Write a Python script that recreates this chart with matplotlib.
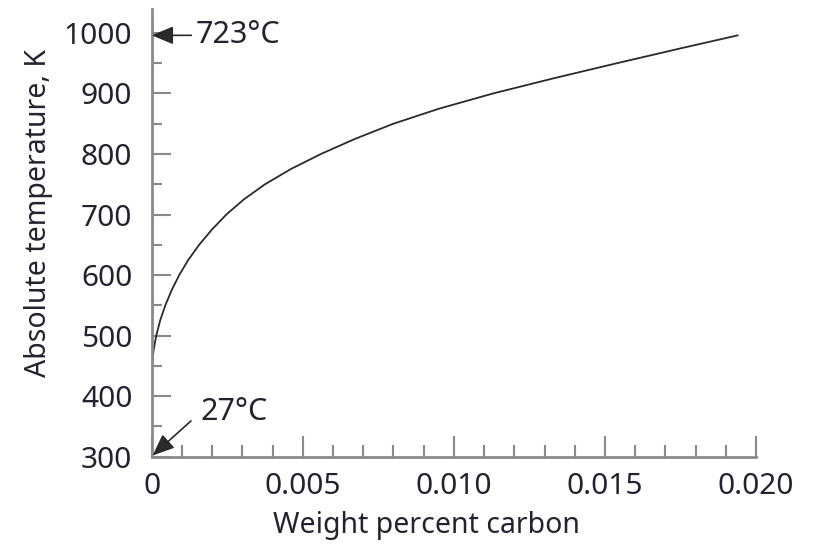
import matplotlib
matplotlib.use("Agg")
import matplotlib.pyplot as plt
from matplotlib.ticker import MultipleLocator, FixedLocator

plt.rcParams['font.family'] = ['Noto Sans', 'DejaVu Sans']

# Data (solubility of carbon in alpha iron)
temperature_K = [300, 425, 450, 475, 500, 525, 550, 575, 600, 625, 650, 675, 700,
                 725, 750, 775, 800, 825, 850, 875, 900, 925, 950, 975, 996]
carbon_wt = [0.0, 0.0, 0.00001, 0.00006, 0.00015, 0.00028, 0.00045, 0.00066, 0.00091,
             0.00121, 0.00157, 0.00199, 0.00247, 0.00305, 0.00375, 0.0046, 0.0056,
             0.00673, 0.0080, 0.00952, 0.0113, 0.0133, 0.0154, 0.01755, 0.0194]
x_tick_vals = [0, 0.005, 0.010, 0.015, 0.020]
x_tick_labels = ['0', '0.005', '0.010', '0.015', '0.020']
y_tick_vals = [300, 400, 500, 600, 700, 800, 900, 1000]
ann_hi = dict(text='723°C', x=0.0, y=996, tx=0.00145, ty=996)
ann_lo = dict(text='27°C', x=0.00003, y=302, tx=0.0016, ty=373)

text_color = '#23232f'
spine_color = '#8a8a8a'

fig = plt.figure(figsize=(8.13, 5.44), dpi=100)
ax = fig.add_axes([0.1866, 0.1605, 0.7433, 0.8224])

ax.plot(carbon_wt, temperature_K, color='#2a2a2a', lw=1.3, solid_capstyle='round',
        solid_joinstyle='round')

ax.set_xlim(0, 0.020)
ax.set_ylim(300, 1039)

for s in ['top', 'right']:
    ax.spines[s].set_visible(False)
for s in ['left', 'bottom']:
    ax.spines[s].set_color(spine_color)
    ax.spines[s].set_linewidth(2.0)
ax.spines['bottom'].set_bounds(0, 0.020)

ax.xaxis.set_major_locator(FixedLocator(x_tick_vals))
ax.set_xticklabels(x_tick_labels)
ax.xaxis.set_minor_locator(MultipleLocator(0.001))
ax.yaxis.set_major_locator(FixedLocator(y_tick_vals))
ax.yaxis.set_minor_locator(MultipleLocator(50))

tick_fs = 21.5
ax.tick_params(axis='x', which='major', direction='in', length=15, width=1.5,
               color=spine_color, labelsize=tick_fs, labelcolor=text_color, pad=11)
ax.tick_params(axis='x', which='minor', direction='in', length=9, width=1.5,
               color=spine_color)
ax.tick_params(axis='y', which='major', direction='in', length=14, width=1.5,
               color=spine_color, labelsize=tick_fs, labelcolor=text_color, pad=14)
ax.tick_params(axis='y', which='minor', direction='in', length=7, width=1.5,
               color=spine_color)

ax.set_xlabel('Weight percent carbon', fontsize=20.5, color=text_color)
ax.xaxis.set_label_coords(0.454, -0.122)
ax.xaxis.label.set_va('top')
ax.set_ylabel('Absolute temperature, K', fontsize=20.5, color=text_color)
ax.yaxis.set_label_coords(-0.188, 0.545)
ax.yaxis.label.set_va('center')

arrow_kw = dict(arrowstyle='-|>,head_length=0.6,head_width=0.25', color='#2a2a2a', lw=1.2,
                shrinkA=1, shrinkB=0)
ax.annotate(ann_hi['text'], xy=(ann_hi['x'], ann_hi['y']), xytext=(ann_hi['tx'], ann_hi['ty']),
            ha='left', va='center', fontsize=22, color=text_color,
            arrowprops=dict(**arrow_kw, relpos=(0, 0.5)), annotation_clip=False)
ax.annotate(ann_lo['text'], xy=(ann_lo['x'], ann_lo['y']), xytext=(ann_lo['tx'], ann_lo['ty']),
            ha='left', va='center', fontsize=22, color=text_color,
            arrowprops=dict(**arrow_kw, relpos=(-0.12, 0.25)), annotation_clip=False)

fig.savefig('out.png', dpi=100, facecolor='white')
